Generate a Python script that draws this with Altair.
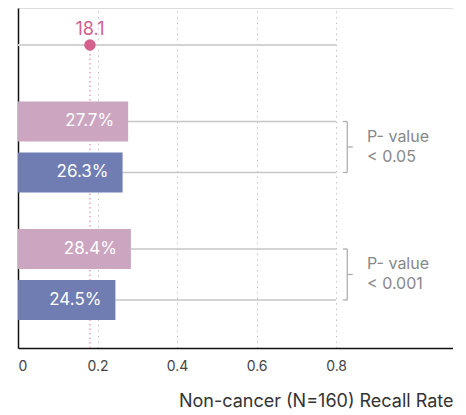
import altair as alt
import pandas as pd

# ---- data ----
ref_value = 18.1
bar_rows = ["g1_pink", "g1_blue", "g2_pink", "g2_blue"]
bar_values = [27.7, 26.3, 28.4, 24.5]
bar_groups = ["pink", "blue", "pink", "blue"]
bracket_top = ["g1_pink", "g2_pink"]
bracket_bottom = ["g1_blue", "g2_blue"]
bracket_mid = ["g1_mid", "g2_mid"]
p_labels = ["P- value\n< 0.05", "P- value\n< 0.001"]
x_ticks = [0, 0.2, 0.4, 0.6, 0.8]
line_end = 0.8

# ---- layout (slots on the vertical band scale) ----
slots = ["ref", "gap1", "gap2", "g1_pink", "g1_mid", "g1_blue",
         "gap3", "gap4", "g2_pink", "g2_mid", "g2_blue", "gap5"]
FONT = "Inter"
BR_X, BR_L, BR_R, TXT_X = 0.828, 0.817, 0.842, 0.878

bars_df = pd.DataFrame({
    "row": bar_rows,
    "rate": [v / 100 for v in bar_values],
    "label": [f"{v}%" for v in bar_values],
    "group": bar_groups,
    "end": line_end,
})
ref_df = pd.DataFrame({"row": ["ref"], "rate": [ref_value / 100],
                       "label": [f"{ref_value}"], "start": [0.0], "end": [line_end]})
br_df = pd.DataFrame({"top": bracket_top, "bottom": bracket_bottom,
                      "mid": bracket_mid, "text": p_labels})

yscale = alt.Scale(domain=slots, paddingInner=0, paddingOuter=0.6667, align=0.713)
yaxis = alt.Axis(labels=False, ticks=False, title=None, grid=False,
                 domainColor="#111", domainWidth=1.5)
xscale = alt.Scale(domain=[0, 1.094], nice=False, zero=True)
xaxis = alt.Axis(values=x_ticks, format="~g", ticks=False, grid=True,
                 gridDash=[1.5, 4], gridColor="#c4c4c4", gridWidth=1,
                 domainColor="#111", domainWidth=1.5,
                 labelFont=FONT, labelFontSize=14, labelColor="#444",
                 labelPadding=11, labelFlush=True,
                 title="Non-cancer (N=160) Recall Rate", titleFont=FONT,
                 titleFontSize=18, titleFontWeight="normal", titleColor="#333",
                 titleAnchor="end", titlePadding=19)

def Y(field):
    return alt.Y(field, scale=yscale, axis=yaxis)

X = alt.X("rate:Q", scale=xscale, axis=xaxis)

ref_line = alt.Chart(ref_df).mark_rule(color="#d2d2d2", strokeWidth=2).encode(
    x=alt.X("start:Q", scale=xscale, axis=xaxis), x2="end:Q", y=Y("row:N"))

ref_drop = alt.Chart(ref_df).mark_rule(color="#e08ab0", strokeWidth=1.2,
                                       strokeDash=[1.5, 3]).encode(
    x=X, y=Y("row:N"), y2=alt.value(340))

bar_lines = alt.Chart(bars_df).mark_rule(color="#c6c6c6", strokeWidth=1.5).encode(
    x=X, x2="end:Q", y=Y("row:N"))

bars = alt.Chart(bars_df).mark_bar(size=40).encode(
    x=X, y=Y("row:N"),
    color=alt.Color("group:N", scale=alt.Scale(domain=["pink", "blue"],
                                               range=["#cca6c0", "#6f7db3"]),
                    legend=None))

bar_text = alt.Chart(bars_df).mark_text(align="right", baseline="middle", dx=-14,
                                        color="white", font=FONT, fontSize=17).encode(
    x=X, y=Y("row:N"), text="label:N")

dot = alt.Chart(ref_df).mark_circle(size=130, color="#d4608e", opacity=1).encode(
    x=X, y=Y("row:N"))

dot_text = alt.Chart(ref_df).mark_text(align="center", baseline="middle", dy=-15,
                                       color="#d0608f", font=FONT, fontSize=18).encode(
    x=X, y=Y("row:N"), text="label:N")

br_color = "#a8a8a8"
br_vert = alt.Chart(br_df).mark_rule(color=br_color, strokeWidth=1.2).encode(
    x=alt.datum(BR_X), y=Y("top:N"), y2="bottom:N")
br_top = alt.Chart(br_df).mark_rule(color=br_color, strokeWidth=1.2).encode(
    x=alt.datum(BR_L), x2=alt.datum(BR_X), y=Y("top:N"))
br_bot = alt.Chart(br_df).mark_rule(color=br_color, strokeWidth=1.2).encode(
    x=alt.datum(BR_L), x2=alt.datum(BR_X), y=Y("bottom:N"))
br_mid = alt.Chart(br_df).mark_rule(color=br_color, strokeWidth=1.2).encode(
    x=alt.datum(BR_X), x2=alt.datum(BR_R), y=Y("mid:N"))
br_text = alt.Chart(br_df).mark_text(align="left", baseline="middle", lineBreak="\n",
                                     lineHeight=20, dy=-10, color="#888", font=FONT,
                                     fontSize=16).encode(
    x=alt.datum(TXT_X), y=Y("mid:N"), text="text:N")

chart = alt.layer(ref_line, ref_drop, bar_lines, bars, bar_text, dot, dot_text,
                  br_vert, br_top, br_bot, br_mid, br_text).properties(
    width=435, height=340,
    padding={"left": 9, "top": 0, "right": 0, "bottom": 0},
).configure_view(stroke=None).configure(background="white")

chart.save("out.html", embed_options={"renderer": "svg", "actions": False})
